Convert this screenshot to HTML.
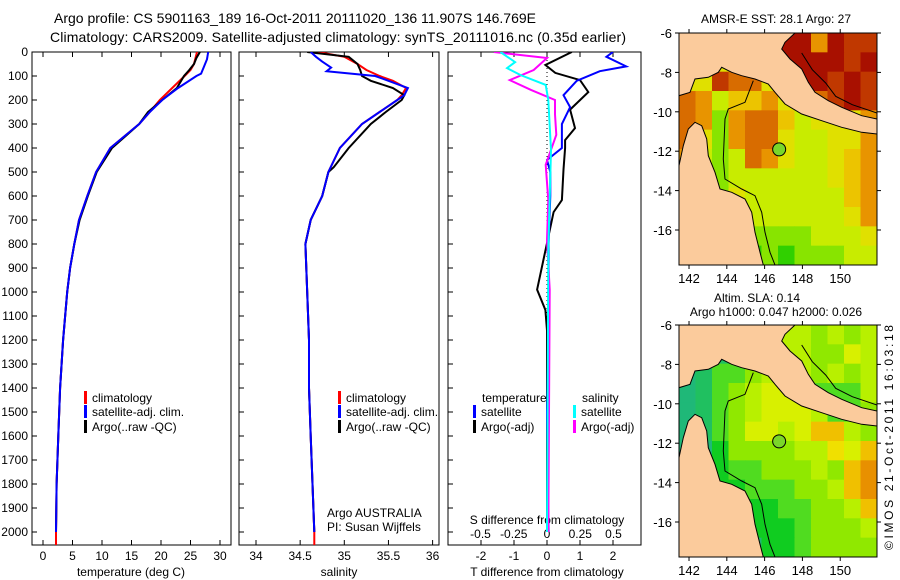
<!DOCTYPE html>
<html><head><meta charset="utf-8">
<style>
body{margin:0;background:#fff;}
svg{display:block;font-family:"Liberation Sans",sans-serif;}
text{fill:#000;}
</style></head>
<body>
<svg id="c" width="900" height="580" xmlns="http://www.w3.org/2000/svg">
<defs>
<clipPath id="cp1"><rect x="32" y="52" width="199" height="493"/></clipPath>
<clipPath id="cp2"><rect x="239" y="52" width="200" height="493"/></clipPath>
<clipPath id="cp3"><rect x="448" y="52" width="193" height="493"/></clipPath>
<clipPath id="cm1"><rect x="679" y="33" width="198" height="232"/></clipPath>
<clipPath id="cm2"><rect x="679" y="325" width="198" height="232"/></clipPath>
</defs>
<text x="54" y="23" font-size="14" textLength="482">Argo profile: CS 5901163_189 16-Oct-2011 20111020_136 11.907S 146.769E</text>
<text x="50" y="42" font-size="14" textLength="576">Climatology: CARS2009. Satellite-adjusted climatology: synTS_20111016.nc (0.35d earlier)</text>
<g id="g"></g>
<text x="0" y="0" font-size="12" transform="translate(893,550) rotate(-90)" textLength="225">©IMOS 21-Oct-2011 16:03:18</text>
</svg>
<script>
// ---- data ----
const tClimD=[0,50,75,100,150,200,250,300,400,500,600,700,800,900,1000,1200,1400,1600,1800,2000,2055];
const tClim=[26.1,25.6,25.0,24.0,21.9,19.8,18.1,16.3,11.4,9.0,7.5,6.1,5.3,4.6,4.1,3.4,2.9,2.6,2.3,2.2,2.2];
const tSatD=[0,30,60,90,100,150,200,250,300,400,500,600,700,800,900,1000,1200,1400,1600,1800,2000];
const tSat=[28.0,27.8,27.3,26.8,26.0,22.9,20.2,18.1,16.3,11.4,9.0,7.5,6.1,5.3,4.6,4.1,3.4,2.9,2.6,2.3,2.2];
const tArgoD=[0,25,50,75,100,150,200,250,300,400,500,600,700,800,900,1000,1200,1400,1600,1800,2000];
const tArgo=[26.6,26.0,25.6,24.8,23.9,22.7,20.2,17.8,16.3,11.7,9.1,7.6,6.2,5.3,4.6,4.1,3.4,2.9,2.6,2.3,2.2];
const sClimD=[0,20,50,75,100,120,150,180,200,250,300,400,500,600,700,800,900,1000,1200,1400,1600,1800,2000,2055];
const sClim=[34.70,35.00,35.15,35.25,35.40,35.55,35.70,35.65,35.60,35.40,35.20,34.95,34.82,34.75,34.62,34.56,34.57,34.58,34.60,34.60,34.62,34.64,34.66,34.66];
const sSatD=[0,20,40,65,80,100,120,150,180,200,250,300,400,500,600,700,800,900,1000,1200,1400,1600,1800,2000];
const sSat=[34.62,34.68,34.75,34.85,34.80,35.35,35.50,35.72,35.68,35.60,35.40,35.20,34.95,34.82,34.75,34.62,34.56,34.57,34.58,34.60,34.60,34.62,34.64,34.66];
const sArgoD=[0,20,50,75,100,120,150,180,200,250,300,400,480,500,600,700,800,900,1000,1200,1400,1600,1800,2000];
const sArgo=[34.58,35.05,35.15,35.18,35.20,35.30,35.55,35.68,35.65,35.47,35.30,35.05,34.88,34.82,34.75,34.62,34.56,34.57,34.58,34.60,34.60,34.62,34.64,34.66];
const dTSatD=[0,20,60,80,120,180,230,300,400,450,500,600,800,1000,1200,1500,2000];
const dTSat=[2.0,1.8,2.4,1.6,0.9,0.5,0.7,0.45,0.45,0.0,0.1,0.1,0.05,0.05,0.05,0.0,0.05];
const dTArgoD=[0,54,87,117,167,240,317,367,400,490,617,667,990,1075,1160,1500,2000];
const dTArgo=[0.75,-0.05,0.25,1.0,1.25,0.7,0.85,0.55,0.55,0.5,0.45,0.2,-0.3,-0.05,0.0,0.0,0.0];
const dSArgoD=[0,25,75,117,158,200,260,345,470,617,783,990,2000];
const dSArgo=[-0.40,0.0,-0.10,-0.28,-0.12,0.06,0.06,0.07,-0.01,0.01,0.0,0.02,0.01];
const dSSatD=[0,42,67,96,137,200,408,825,2000];
const dSSat=[-0.35,-0.24,-0.30,-0.20,-0.01,0.01,0.03,0.01,0.0];
const depthTicks=[0,100,200,300,400,500,600,700,800,900,1000,1100,1200,1300,1400,1500,1600,1700,1800,1900,2000];
const tTicks=[0,5,10,15,20,25,30];
const sTicks=[34,34.5,35,35.5,36];
const tdTicks=[-2,-1,0,1,2];
const sdTicks=[-0.5,-0.25,0,0.25,0.5];
const sdTickLabels=["-0.5","-0.25","0","0.25","0.5"];
const lonTicks=[142,144,146,148,150];
const latTicks=[-6,-8,-10,-12,-14,-16];
const argoLon=146.769, argoLat=-11.907;
// map colour grids (rows north->south, cols west->east)
const sstGrid=["yyyyyyRRoRrr","yyyyyyRRRRrR","yyrOOyyRRrRr","OolYYoyyOrRr","OoGoOOYlyyyo","OyGoOOyllyyo","olGlOoyllyYo","olGllllllyYo","oOGyllllllYo","oyGlllllllyo","ylGGGGGGllly","ylgggGgGGGll"];
const slaGrid=["ttttttllLlLl","TtttgLllLLYl","TtGGLlLlLlLl","TtGLlYYGGGGl","TtGLlYYYlGGL","TtGLYYlYoolL","TTgLLLLllyYo","TTgGGLLLlLoO","TTggGGGLLloO","TTTgggGGLLlo","TTTTgggGLLLl","TTTTTggGLLLL"];
const sstCols={R:"#a81000",r:"#c03800",O:"#d86c00",o:"#e89400",Y:"#ecc400",y:"#e0e000",l:"#c8ec00",G:"#88e400",g:"#30d000"};
const slaCols={T:"#1fb878",t:"#20c060",g:"#10cc20",G:"#50dc20",L:"#90e800",l:"#b8f000",Y:"#d8f000",y:"#f0e000",o:"#f0c000",O:"#e89000"};

// ---- helpers ----
const NS="http://www.w3.org/2000/svg";
const G=document.getElementById('g');
function mk(tag,attrs,parent){const e=document.createElementNS(NS,tag);for(const k in attrs)e.setAttribute(k,attrs[k]);(parent||G).appendChild(e);return e;}
function txt(x,y,s,size,anchor,parent){const e=mk('text',{x:x,y:y,'font-size':size,'text-anchor':anchor||'start'},parent);e.textContent=s;return e;}
const yD=d=>52+d*0.24;
const xT=t=>43+t*5.9;
const xS=s=>256+(s-34)*88.3;
const xTd=t=>547+t*33;
const xSd=s=>547+s*133;

function line(ds,vs,xf,col,clip,name){
  const pts=ds.map((d,i)=>xf(vs[i]).toFixed(1)+","+yD(d).toFixed(1)).join(" ");
  const p=mk('polyline',{points:pts,fill:'none',stroke:col,'stroke-width':2,'clip-path':'url(#'+clip+')'});
  
  
}
function frame(x,w,name){
  const r=mk('rect',{x:x,y:52,width:w,height:493,fill:'none',stroke:'#000','stroke-width':1});
  
  
  depthTicks.forEach(d=>mk('line',{x1:x,x2:x+5,y1:yD(d),y2:yD(d),stroke:'#000'}));
}
function xticks(vals,labels,xf,y,name,top){
  vals.forEach((v,i)=>{
    mk('line',{x1:xf(v),x2:xf(v),y1:545,y2:540,stroke:'#000'});
    if(top) mk('line',{x1:xf(v),x2:xf(v),y1:52,y2:57,stroke:'#000'});
    const t=txt(xf(v),y,labels[i],12,'middle');
    
    
  });
}
depthTicks.forEach(d=>{const t=txt(28,yD(d)+4,String(d),12,'end');
  
  });
frame(32,199,'temperature-panel-frame');
frame(239,200,'salinity-panel-frame');
frame(448,193,'difference-panel-frame');
xticks(tTicks,tTicks.map(String),xT,560,'temperature-tick-label',true);
xticks(sTicks,sTicks.map(String),xS,560,'salinity-tick-label',true);
xticks(tdTicks,tdTicks.map(String),xTd,560,'t-diff-tick-label',true);
sdTicks.forEach((v,i)=>{
  const t=txt(xSd(v),538,sdTickLabels[i],12,'middle');
  
  });
[[131,'temperature (deg C)','temperature-axis-title'],[339,'salinity','salinity-axis-title'],[547,'T difference from climatology','t-diff-axis-title']].forEach(a=>{
  const t=txt(a[0],576,a[1],12,'middle');});
{const t=txt(547,524,'S difference from climatology',12,'middle');}
mk('line',{x1:547,x2:547,y1:52,y2:yD(1200),stroke:'#000','stroke-dasharray':'1,3'});
line(tClimD,tClim,xT,'#f00','cp1','temperature-climatology-line');
line(tArgoD,tArgo,xT,'#000','cp1','temperature-argo-line');
line(tSatD,tSat,xT,'#00f','cp1','temperature-satellite-line');
line(sClimD,sClim,xS,'#f00','cp2','salinity-climatology-line');
line(sArgoD,sArgo,xS,'#000','cp2','salinity-argo-line');
line(sSatD,sSat,xS,'#00f','cp2','salinity-satellite-line');
line(dTArgoD,dTArgo,xTd,'#000','cp3','t-diff-argo-line');
line(dTSatD,dTSat,xTd,'#00f','cp3','t-diff-satellite-line');
line(dSArgoD,dSArgo,xSd,'#f0f','cp3','s-diff-argo-line');
line(dSSatD,dSSat,xSd,'#0ff','cp3','s-diff-satellite-line');
function leg(x,y,col,label,name){
  mk('rect',{x:x,y:y-11,width:3,height:13,fill:col});
  const t=txt(x+8,y,label,12,'start');
  
  
}
leg(84,402,'#f00','climatology','legend-climatology');
leg(84,416,'#00f','satellite-adj. clim.','legend-satellite-adj');
leg(84,431,'#000','Argo(..raw -QC)','legend-argo-raw');
leg(338,402,'#f00','climatology','legend-climatology-sal');
leg(338,416,'#00f','satellite-adj. clim.','legend-satellite-adj-sal');
leg(338,431,'#000','Argo(..raw -QC)','legend-argo-raw-sal');
{const t=txt(482,402,'temperature',12);}
{const t=txt(582,402,'salinity',12);}
leg(473,416,'#00f','satellite','legend-t-satellite');
leg(473,431,'#000','Argo(-adj)','legend-t-argo');
leg(573,416,'#0ff','satellite','legend-s-satellite');
leg(573,431,'#f0f','Argo(-adj)','legend-s-argo');
{const t=txt(327,517,'Argo AUSTRALIA',12);}
{const t=txt(327,531,'PI: Susan Wijffels',12);}

// ---- maps ----
const LON0=141.47;
const xL=lon=>679+(lon-LON0)*18.9;
const png=[[0,0],[348,0],[318,28],[308,48],[333,78],[368,108],[388,148],[408,178],[448,203],[488,223],[548,248],[594,258],[594,303],[548,298],[488,283],[428,263],[368,243],[318,213],[288,178],[268,153],[228,138],[188,128],[158,118],[128,103],[118,118],[88,133],[48,138],[33,178],[0,188]];
const capeYork=[[0,398],[13,338],[28,288],[48,268],[68,278],[83,318],[88,368],[108,418],[123,468],[158,478],[198,498],[218,538],[228,598],[243,658],[253,696],[0,696]];
const shelf=[[223,143],[198,208],[148,228],[138,258],[133,378],[138,438],[188,468],[228,488],[248,538],[258,598],[273,658],[288,696]];
const shelfNE=[[368,60],[400,110],[440,150],[470,190],[520,215],[594,240]];
function drawMap(top,grid,cols,clip,latLabelName){
  const yL=lat=>top+(-6-lat)*19.7;
  const W=198,H=232,cw=W/12,ch=H/12;
  const bg=mk('g',{'clip-path':'url(#'+clip+')'});
  
  
  grid.forEach((row,r)=>{for(let c=0;c<row.length;c++){
    mk('rect',{x:679+c*cw,y:top+r*ch,width:cw+0.5,height:ch+0.5,fill:cols[row[c]]},bg);}});
  const tp=([zx,zy])=>(679+zx/3).toFixed(1)+","+(top+zy/3).toFixed(1);
  [capeYork,png].forEach((poly,i)=>{
    const p=mk('polygon',{points:poly.map(tp).join(" "),fill:'#fbcb9c',stroke:'#000','stroke-width':1},bg);
    
    
  });
  mk('polyline',{points:shelf.map(tp).join(" "),fill:'none',stroke:'#000','stroke-width':1},bg);
  mk('polyline',{points:shelfNE.map(tp).join(" "),fill:'none',stroke:'#000','stroke-width':1},bg);
  const r=mk('rect',{x:679,y:top,width:W,height:H,fill:'none',stroke:'#000'});
  
  
  const dot=mk('circle',{cx:xL(argoLon),cy:yL(argoLat),r:6.5,fill:'#7ad62a',stroke:'#000'});
  
  
  latTicks.forEach(l=>{
    mk('line',{x1:675,x2:679,y1:yL(l),y2:yL(l),stroke:'#000'});
    mk('line',{x1:877,x2:881,y1:yL(l),y2:yL(l),stroke:'#000'});
    const t=txt(672,yL(l)+5,String(l),13,'end');
    
    });
  lonTicks.forEach(l=>{
    mk('line',{x1:xL(l),x2:xL(l),y1:top,y2:top-4,stroke:'#000'});
    mk('line',{x1:xL(l),x2:xL(l),y1:top+H,y2:top+H+4,stroke:'#000'});
    const t=txt(xL(l),top+H+18,String(l),13,'middle');
    
    });
}
drawMap(33,sstGrid,sstCols,'cm1','sst-lat-label');
drawMap(325,slaGrid,slaCols,'cm2','sla-lat-label');
{const t=txt(776,23,'AMSR-E SST: 28.1  Argo: 27',12,'middle');}
{const t=txt(757,302,'Altim. SLA: 0.14',12,'middle');}
{const t=txt(776,316,'Argo h1000: 0.047  h2000: 0.026',12,'middle');}
</script>
</body></html>
